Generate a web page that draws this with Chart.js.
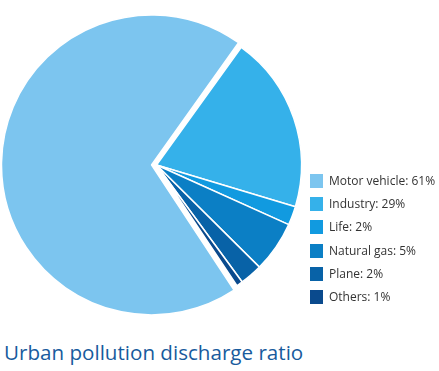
<!DOCTYPE html>
<html>
<head>
<meta charset="utf-8">
<script src="https://cdn.jsdelivr.net/npm/chart.js@4/dist/chart.umd.min.js"></script>
<style>
  html, body { margin: 0; padding: 0; background: #fff; }
  body { width: 439px; height: 371px; position: relative; overflow: hidden; font-family: "Open Sans", sans-serif; }
  #wrap { position: absolute; left: 0; top: 0; width: 439px; height: 330px; }
  #legend { position: absolute; left: 310px; top: 174px; margin: 0; padding: 0; list-style: none; }
  #legend li { height: 23.2px; position: relative; font-size: 12px; color: #333; white-space: nowrap; }
  #legend li span.box { position: absolute; left: 0; top: 0; width: 13px; height: 14px; }
  #legend li span.txt { position: absolute; left: 19px; top: -2px; line-height: 18px; }
  #title { position: absolute; left: 4px; top: 338px; font-size: 20.6px; color: #185b9d; white-space: nowrap; }
</style>
</head>
<body>
<div id="wrap"><canvas id="pie"></canvas></div>
<ul id="legend"></ul>
<div id="title">Urban pollution discharge ratio</div>
<script>
  // legend texts as printed, slice shares (percent)
  const labels = ["Motor vehicle: 61%", "Industry: 29%", "Life: 2%", "Natural gas: 5%", "Plane: 2%", "Others: 1%"];
  const shares = [69.3, 19.7, 2.1, 5.7, 2.5, 0.7];
  const colors = ["#7cc5ef", "#35b1ea", "#119ae0", "#0b7fc5", "#0862a7", "#0a4a8d"];
  const offsets = [20, 0, 0, 0, 0, 0]; // chart.js moves a >180deg arc by offset/2

  const legendEl = document.getElementById("legend");
  legendEl.innerHTML = labels.map((l, i) =>
    `<li><span class="box" style="background:${colors[i]}"></span><span class="txt">${l}</span></li>`
  ).join("");

  new Chart(document.getElementById("pie"), {
    type: "pie",
    data: {
      labels,
      datasets: [{
        data: shares,
        backgroundColor: colors,
        borderColor: "#fff",
        borderWidth: 1.5,
        offset: offsets,
        hoverOffset: 0
      }]
    },
    options: {
      responsive: true,
      maintainAspectRatio: false,
      animation: false,
      rotation: 146.3,
      radius: 145,
      layout: { padding: { left: 0, right: 126, top: 2, bottom: 2 } },
      plugins: { legend: { display: false }, tooltip: { enabled: false } }
    }
  });
</script>
</body>
</html>
